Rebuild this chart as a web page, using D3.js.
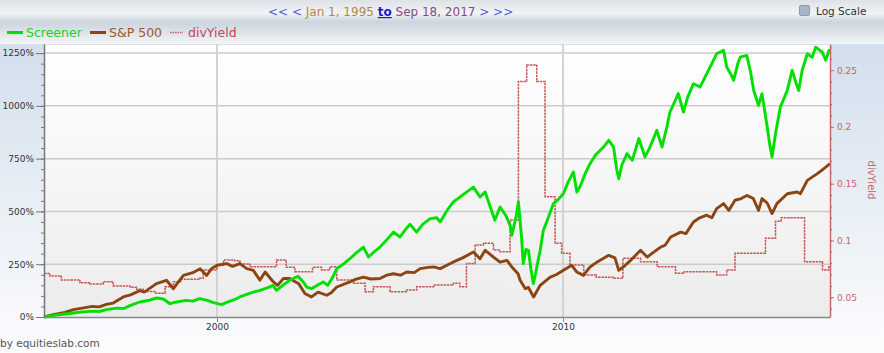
<!DOCTYPE html>
<html>
<head>
<meta charset="utf-8">
<script src="https://cdn.jsdelivr.net/npm/d3@7"></script>
<style>
  body{margin:0;background:#fff;font-family:"DejaVu Sans",Verdana,sans-serif;}
  svg{display:block;}
</style>
</head>
<body>
<div id="chart"></div>
<script>
// [decimal year, cumulative return %]
const screener=[[1995.0,0],[1995.3,8],[1995.6,14],[1995.85,19],[1996.1,24],[1996.4,28],[1996.6,26],[1996.8,35],
  [1997.1,42],[1997.3,40],[1997.5,55],[1997.77,71],[1998.0,78],[1998.25,90],[1998.45,85],[1998.64,63],[1998.8,70],
  [1999.1,79],[1999.3,75],[1999.5,87],[1999.7,80],[1999.9,68],[2000.13,59],[2000.3,70],[2000.5,82],[2000.66,95],
  [2000.9,110],[2001.05,118],[2001.24,126],[2001.45,138],[2001.62,150],[2001.72,126],[2001.9,150],[2002.1,174],
  [2002.34,193],[2002.5,165],[2002.59,142],[2002.73,134],[2002.9,150],[2003.07,166],[2003.2,150],[2003.35,190],
  [2003.46,229],[2003.65,250],[2003.84,276],[2004.0,300],[2004.23,331],[2004.38,284],[2004.55,310],[2004.71,331],
  [2004.9,365],[2005.1,402],[2005.29,379],[2005.45,415],[2005.58,439],[2005.77,402],[2005.95,440],[2006.16,466],
  [2006.35,470],[2006.45,450],[2006.65,505],[2006.83,545],[2007.02,568],[2007.2,590],[2007.41,615],[2007.6,568],
  [2007.75,592],[2007.9,520],[2008.03,458],[2008.18,521],[2008.35,480],[2008.47,434],[2008.52,387],[2008.65,480],
  [2008.71,545],[2008.8,379],[2008.85,253],[2008.93,320],[2009.0,316],[2009.07,230],[2009.14,158],[2009.2,200],
  [2009.27,260],[2009.34,316],[2009.43,410],[2009.55,460],[2009.72,537],[2009.85,555],[2010.01,584],[2010.15,640],
  [2010.3,687],[2010.4,592],[2010.5,620],[2010.64,679],[2010.78,726],[2010.95,770],[2011.17,805],[2011.32,837],
  [2011.46,805],[2011.55,700],[2011.61,655],[2011.7,720],[2011.85,774],[2012.0,742],[2012.19,845],[2012.37,758],
  [2012.5,800],[2012.71,884],[2012.86,805],[2013.0,900],[2013.09,971],[2013.2,1010],[2013.33,1058],[2013.48,971],
  [2013.6,1040],[2013.77,1105],[2013.96,1089],[2014.15,1152],[2014.3,1200],[2014.44,1247],[2014.64,1263],
  [2014.73,1184],[2014.85,1150],[2014.93,1121],[2015.05,1200],[2015.12,1231],[2015.31,1239],[2015.42,1160],
  [2015.51,1073],[2015.65,1002],[2015.75,1058],[2015.9,900],[2015.97,820],[2016.04,758],[2016.14,868],[2016.28,994],
  [2016.48,1073],[2016.62,1168],[2016.75,1100],[2016.81,1073],[2016.91,1168],[2017.06,1247],[2017.2,1230],
  [2017.3,1278],[2017.49,1255],[2017.59,1216],[2017.69,1263],[2017.715,1250]];

const sp500=[[1995.0,0],[1995.3,12],[1995.6,22],[1995.85,35],[1996.1,42],[1996.4,50],[1996.6,48],[1996.8,60],
  [1997.0,66],[1997.29,95],[1997.5,105],[1997.77,125],[1997.9,118],[1998.25,158],[1998.54,174],[1998.74,134],
  [1998.9,170],[1999.03,197],[1999.3,210],[1999.51,229],[1999.7,197],[1999.85,230],[2000.0,245],[2000.28,253],
  [2000.45,240],[2000.66,253],[2000.86,229],[2001.05,221],[2001.24,174],[2001.39,213],[2001.63,166],[2001.75,150],
  [2001.92,182],[2002.1,182],[2002.36,158],[2002.54,111],[2002.73,95],[2002.92,118],[2003.17,103],[2003.3,115],
  [2003.46,142],[2003.84,166],[2004.0,178],[2004.23,189],[2004.45,180],[2004.71,182],[2004.9,198],[2005.1,205],
  [2005.3,198],[2005.48,213],[2005.7,210],[2005.87,229],[2006.1,235],[2006.26,237],[2006.45,229],[2006.7,250],
  [2006.93,268],[2007.1,280],[2007.41,308],[2007.6,276],[2007.75,316],[2007.99,284],[2008.18,260],[2008.38,268],
  [2008.52,237],[2008.7,205],[2008.76,174],[2008.91,134],[2009.0,140],[2009.15,95],[2009.34,150],[2009.63,189],
  [2009.8,200],[2010.01,221],[2010.25,245],[2010.4,213],[2010.59,197],[2010.78,237],[2011.0,262],[2011.32,292],
  [2011.5,280],[2011.61,221],[2011.8,245],[2011.95,268],[2012.24,316],[2012.43,284],[2012.6,305],[2012.82,331],
  [2012.95,340],[2013.11,379],[2013.4,402],[2013.55,395],[2013.77,450],[2013.95,470],[2014.15,482],[2014.3,470],
  [2014.44,513],[2014.64,537],[2014.79,505],[2014.97,553],[2015.15,561],[2015.31,576],[2015.5,561],[2015.65,505],
  [2015.75,561],[2015.9,540],[2016.04,490],[2016.18,537],[2016.48,584],[2016.77,592],[2016.86,584],[2017.06,647],
  [2017.35,679],[2017.54,703],[2017.715,726]];

// step series: value holds from this date until the next one
const divYield=[[1995.0,0.071],[1995.17,0.0687],[1995.5,0.0652],[1996.04,0.0628],[1996.33,0.0617],[1996.71,0.0637],
  [1997.0,0.060],[1997.49,0.0588],[1997.68,0.057],[1997.87,0.055],[1998.2,0.0535],[1998.5,0.0593],[1998.74,0.0637],
  [1998.95,0.0658],[1999.5,0.0667],[1999.6,0.074],[2000.0,0.0784],[2000.19,0.0828],[2000.5,0.0822],[2000.66,0.0793],
  [2000.95,0.0769],[2001.72,0.0828],[2002.0,0.0764],[2002.25,0.0725],[2002.76,0.0764],[2003.02,0.074],[2003.26,0.0769],
  [2003.46,0.0652],[2003.94,0.0623],[2004.28,0.0549],[2004.52,0.0593],[2005.0,0.0549],[2005.48,0.0564],[2005.77,0.0593],
  [2006.26,0.0608],[2006.83,0.0623],[2007.02,0.0593],[2007.21,0.0798],[2007.46,0.096],[2007.7,0.0975],[2007.99,0.0916],
  [2008.18,0.0901],[2008.47,0.118],[2008.71,0.240],[2008.95,0.2546],[2009.24,0.240],[2009.48,0.1386],[2009.77,0.0975],
  [2009.96,0.0887],[2010.2,0.0784],[2010.6,0.0696],[2010.96,0.0676],[2011.44,0.0667],[2011.73,0.0843],[2012.24,0.0813],
  [2012.72,0.0769],[2013.25,0.0711],[2013.5,0.0725],[2014.44,0.0696],[2014.73,0.074],[2014.97,0.0887],[2015.85,0.102],
  [2016.14,0.117],[2016.3,0.120],[2016.98,0.0813],[2017.5,0.074],[2017.68,0.0769],[2017.715,0.0769]];

const xTicks=[2000,2010];
const leftTicks=[0,250,500,750,1000,1250];
const rightTicks=[0.05,0.1,0.15,0.2,0.25];

const W=884,H=353;
const m={top:44,right:54,bottom:36,left:44};
const colors={screener:"#00e000",sp:"#8b4513",div:"#c65858"};

const svg=d3.select("#chart").append("svg").attr("width",W).attr("height",H);
const defs=svg.append("defs");
function grad(id,stops){
  const g=defs.append("linearGradient").attr("id",id).attr("x1",0).attr("y1",0).attr("x2",0).attr("y2",1);
  stops.forEach(s=>g.append("stop").attr("offset",s[0]).attr("stop-color",s[1]));
}
grad("bgGrad",[[0,"#d3dfed"],[0.85,"#f6f8fb"],[1,"#fbfcfd"]]);
grad("headGrad",[[0,"#dee2e7"],[0.3,"#f1f3f5"],[0.5,"#ccd4dd"],[1,"#f3f5f7"]]);
grad("plotGrad",[[0,"#ffffff"],[1,"#ececec"]]);

svg.append("rect").attr("x",0).attr("y",m.top).attr("width",W).attr("height",H-m.top).attr("fill","url(#bgGrad)");
svg.append("rect").attr("x",0).attr("y",0).attr("width",W).attr("height",m.top).attr("fill","url(#headGrad)");

const x=d3.scaleLinear().domain([1995,2017.715]).range([m.left,W-m.right]);
const yL=d3.scaleLinear().domain([0,1293]).range([H-m.bottom,m.top]);
const yR=d3.scaleLinear().domain([0.0326,0.273]).range([H-m.bottom,m.top]);

svg.append("rect").attr("x",m.left).attr("y",m.top)
  .attr("width",x.range()[1]-m.left).attr("height",H-m.bottom-m.top)
  .attr("fill","url(#plotGrad)");
svg.append("line").attr("x1",m.left).attr("x2",x.range()[1]).attr("y1",m.top+0.5).attr("y2",m.top+0.5)
  .attr("stroke","#dcdfe3");

// grid
svg.selectAll(".hgrid").data(leftTicks.filter(d=>d>0)).join("line")
  .attr("x1",m.left).attr("x2",x.range()[1])
  .attr("y1",d=>yL(d)).attr("y2",d=>yL(d))
  .attr("stroke","#cbcbcb").attr("stroke-width",1.5);
svg.selectAll(".vgrid").data(xTicks).join("line")
  .attr("x1",d=>x(d)).attr("x2",d=>x(d))
  .attr("y1",m.top).attr("y2",H-m.bottom)
  .attr("stroke","#d2d2d2").attr("stroke-width",2);

// series
svg.append("path").datum(divYield)
  .attr("fill","none").attr("stroke",colors.div).attr("stroke-width",1.5)
  .attr("stroke-dasharray","2.5 0.8")
  .attr("d",d3.line().curve(d3.curveStepAfter).x(d=>x(d[0])).y(d=>yR(d[1])));
svg.append("path").datum(sp500)
  .attr("fill","none").attr("stroke",colors.sp).attr("stroke-width",2.9).attr("stroke-linejoin","round")
  .attr("d",d3.line().x(d=>x(d[0])).y(d=>yL(d[1])));
svg.append("path").datum(screener)
  .attr("fill","none").attr("stroke",colors.screener).attr("stroke-width",2.9).attr("stroke-linejoin","round")
  .attr("d",d3.line().x(d=>x(d[0])).y(d=>yL(d[1])));

// axes
const styleAxis=(s,col,txt)=>{
  s.select(".domain").attr("stroke",col).attr("stroke-width",1.5);
  s.selectAll("line").attr("stroke",col);
  s.selectAll("text").attr("fill",txt).attr("font-size",9).attr("font-family","DejaVu Sans");
};
svg.append("g").attr("transform",`translate(${m.left},0)`)
  .call(d3.axisLeft(yL).tickValues(d3.range(0,1300,50)).tickSize(3).tickFormat(""))
  .call(s=>{s.select(".domain").remove();s.selectAll("line").attr("stroke","#777");});
svg.append("g").attr("transform",`translate(${m.left},0)`)
  .call(d3.axisLeft(yL).tickValues(leftTicks).tickSize(8).tickPadding(2).tickSizeOuter(0).tickFormat(d=>d+"%"))
  .call(s=>styleAxis(s,"#777","#333"));

const xr=x.range()[1];
svg.append("g").attr("transform",`translate(${xr},0)`)
  .call(d3.axisRight(yR).tickValues(d3.range(0.04,0.275,0.01)).tickSize(2).tickFormat(""))
  .call(s=>{s.select(".domain").remove();s.selectAll("line").attr("stroke","#b05a5a");});
svg.append("g").attr("transform",`translate(${xr},0)`)
  .call(d3.axisRight(yR).tickValues(rightTicks).tickSize(4).tickPadding(3).tickSizeOuter(0).tickFormat(d3.format("")))
  .call(s=>styleAxis(s,"#c86a6a","#c86464"));

svg.append("g").attr("transform",`translate(0,${H-m.bottom})`)
  .call(d3.axisBottom(x).tickValues(xTicks).tickSize(5).tickPadding(2).tickSizeOuter(0).tickFormat(d3.format("d")))
  .call(s=>styleAxis(s,"#888","#333"));

svg.append("text").attr("transform",`translate(868,180) rotate(90)`)
  .attr("text-anchor","middle").attr("font-size",10).attr("fill","#c86464").text("divYield");

// header navigation
const nav=svg.append("text").attr("x",268).attr("y",16).attr("font-size",12);
nav.append("tspan").attr("fill","#5060e0").text("<< < ");
nav.append("tspan").attr("fill","#b5864a").text("Jan 1, 1995 ");
nav.append("tspan").attr("fill","#1a1acc").attr("font-weight","bold").attr("text-decoration","underline").text("to");
nav.append("tspan").attr("fill","#8e4a7e").text(" Sep 18, 2017 ");
nav.append("tspan").attr("fill","#5060e0").text("> >>");

svg.append("rect").attr("x",799.5).attr("y",5.5).attr("width",10).attr("height",10).attr("rx",1.5)
  .attr("fill","#a9b6c6").attr("stroke","#8d9aab");
svg.append("text").attr("x",816).attr("y",15).attr("font-size",10.5).attr("fill","#333").text("Log Scale");

// legend
const legend=[
  {name:"Screener",col:colors.screener,txt:"#1fd01f",x:7,dash:null},
  {name:"S&P 500",col:colors.sp,txt:"#9a5a2c",x:90,dash:null},
  {name:"divYield",col:colors.div,txt:"#c04a4a",x:170,dash:"1.5 1"}
];
legend.forEach(l=>{
  svg.append("line").attr("x1",l.x).attr("x2",l.x+(l.dash?13:16)).attr("y1",32.5).attr("y2",32.5)
    .attr("stroke",l.col).attr("stroke-width",l.dash?1.5:3).attr("stroke-dasharray",l.dash);
  svg.append("text").attr("x",l.x+(l.dash?18:19)).attr("y",37).attr("font-size",12.5).attr("fill",l.txt).text(l.name);
});

svg.append("text").attr("x",0).attr("y",347).attr("font-size",10.5).attr("fill","#555").text("by equitieslab.com");
</script>
</body>
</html>
